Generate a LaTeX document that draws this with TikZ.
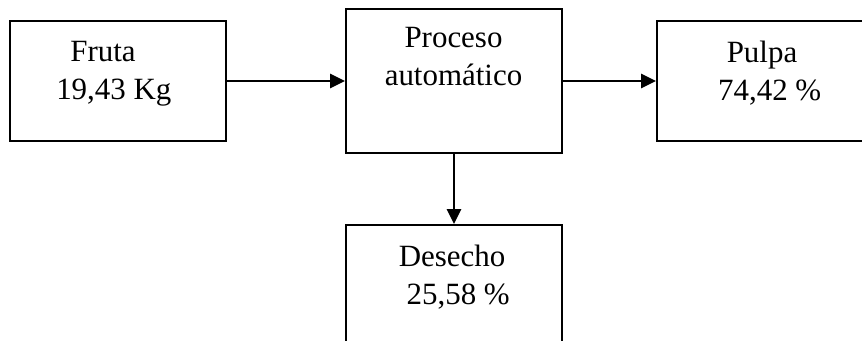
\documentclass[tikz,border=0pt]{standalone}
\usepackage{fontspec}
\setmainfont{Liberation Serif}
\usetikzlibrary{arrows.meta}

\begin{document}
\begin{tikzpicture}[x=0.025cm, y=-0.025cm, >={Triangle[length=10.5pt, width=10pt]},
  line width=1.4pt,
  flowbox/.style={draw, rectangle, inner sep=0pt, minimum width=5.4cm, minimum height=3cm},
  boxtext/.style={anchor=north, align=center, inner sep=0pt,
    font=\fontsize{22}{27}\selectfont, execute at begin node=\strut}]

  \useasboundingbox (0,0) rectangle (862,341);
  \clip (0,0) rectangle (862,341);

  %% ===================== boxes =====================
  \node[flowbox] (fruta) at (118,81) {};
  \node[flowbox, minimum height=3.6cm] (proceso) at (454,81) {};
  \node[flowbox] (pulpa) at (765,81) {};
  \node[flowbox, minimum height=3.6cm] (desecho) at (454,297) {};

  %% ===================== texts =====================
  \node[boxtext] (frutaTxt) at (103,40.4) {Fruta\\\hspace*{0.7em}19,43 Kg};
  \node[boxtext] (procesoTxt) at (453.5,26.4) {Proceso\\autom\'atico};
  \node[boxtext] (pulpaTxt) at (762,40.4) {Pulpa\\\hspace*{0.5em}74,42 \%};
  \node[boxtext] (desechoTxt) at (452,244.4) {Desecho\\\hspace*{0.4em}25,58 \%};

  %% ===================== flows =====================
  \draw[->] (fruta.east) -- (proceso.west |- fruta.east);
  \draw[->] (proceso.east) -- (pulpa.west);
  \draw[->] (proceso.south) -- (desecho.north);

\end{tikzpicture}
\end{document}
